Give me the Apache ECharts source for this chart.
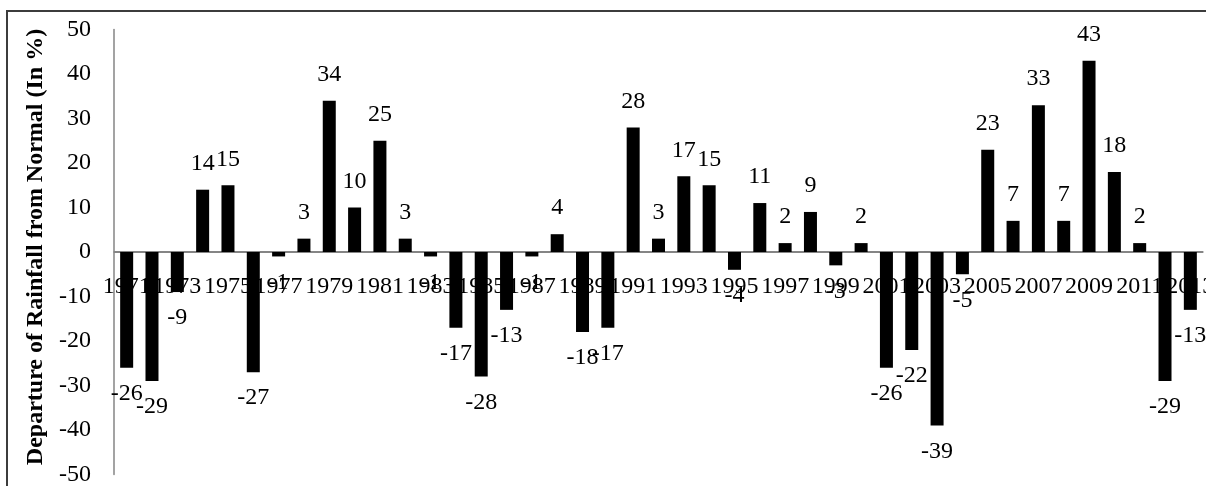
<!DOCTYPE html>
<html>
<head>
<meta charset="utf-8">
<script src="https://cdn.jsdelivr.net/npm/echarts@6/dist/echarts.min.js"></script>
<style>
html,body{margin:0;padding:0;background:#fff;overflow:hidden;}
#wrap{position:relative;width:1206px;height:486px;overflow:hidden;}
#chart{width:1206px;height:486px;}
#frame{position:absolute;left:6px;top:10px;width:1220px;height:500px;border:2px solid #3c3c3c;pointer-events:none;box-sizing:border-box;}
</style>
</head>
<body>
<div id="wrap">
<div id="chart"></div>
<div id="frame"></div>
</div>
<script>
const years = ['1971','1972','1973','1974','1975','1976','1977','1978','1979','1980','1981','1982','1983','1984','1985','1986','1987','1988','1989','1990','1991','1992','1993','1994','1995','1996','1997','1998','1999','2000','2001','2002','2003','2004','2005','2006','2007','2008','2009','2010','2011','2012','2013'];
const departure = [-26,-29,-9,14,15,-27,-1,3,34,10,25,3,-1,-17,-28,-13,-1,4,-18,-17,28,3,17,15,-4,11,2,9,-3,2,-26,-22,-39,-5,23,7,33,7,43,18,2,-29,-13];
const yTitle = 'Departure of Rainfall from Normal (In %)';

const FONT = '"Liberation Serif", "Times New Roman", serif';
const GRID_TOP = 29.5, GRID_BOTTOM = 11.5, CHART_H = 486;
const Y_MIN = -50, Y_MAX = 50, Y_STEP = 10;
const AXIS_GRAY = '#858585';
// shift x-axis labels from grid bottom up to the zero line
const plotH = CHART_H - GRID_TOP - GRID_BOTTOM;
const zeroShift = -plotH * (0 - Y_MIN) / (Y_MAX - Y_MIN);

const chart = echarts.init(document.getElementById('chart'), null, {renderer: 'canvas'});
chart.setOption({
  animation: false,
  backgroundColor: '#fff',
  grid: {left: 114, right: 3, top: GRID_TOP, bottom: GRID_BOTTOM, containLabel: false, outerBoundsMode: 'none'},
  xAxis: {
    type: 'category',
    position: 'bottom',
    offset: zeroShift,
    data: years,
    axisLine: {show: true, onZero: false, lineStyle: {color: AXIS_GRAY, width: 1.5}},
    axisTick: {show: false},
    axisLabel: {show: true, interval: 1, margin: 23, fontSize: 24, fontFamily: FONT, color: '#000'},
    splitLine: {show: false}
  },
  yAxis: {
    type: 'value',
    min: Y_MIN, max: Y_MAX, interval: Y_STEP,
    name: yTitle,
    nameLocation: 'middle',
    nameRotate: 90,
    nameGap: 64,
    nameTextStyle: {fontSize: 24, fontWeight: 'bold', fontFamily: FONT, color: '#000', padding: [0, 0, 0, 10]},
    axisLine: {show: true, lineStyle: {color: AXIS_GRAY, width: 1.5}},
    axisTick: {show: false},
    splitLine: {show: false},
    axisLabel: {fontSize: 24, fontFamily: FONT, color: '#000', margin: 23}
  },
  series: [
    {
      // zero baseline across the plot, placed through the library's y scale
      type: 'custom',
      silent: true,
      z: 1,
      data: [[0, 0]],
      renderItem: function (params, api) {
        const cs = params.coordSys;
        const y0 = api.coord([0, 0])[1];
        return {
          type: 'rect',
          shape: {x: cs.x, y: y0 - 1, width: cs.width, height: 2},
          style: {fill: AXIS_GRAY}
        };
      }
    },
    {
      type: 'bar',
      barWidth: 13,
      z: 2,
      itemStyle: {color: '#000'},
      label: {show: true, fontSize: 24, fontFamily: FONT, color: '#000', distance: 14},
      data: departure.map(v => ({value: v, label: {position: v >= 0 ? 'top' : 'bottom'}}))
    }
  ]
});
</script>
</body>
</html>
